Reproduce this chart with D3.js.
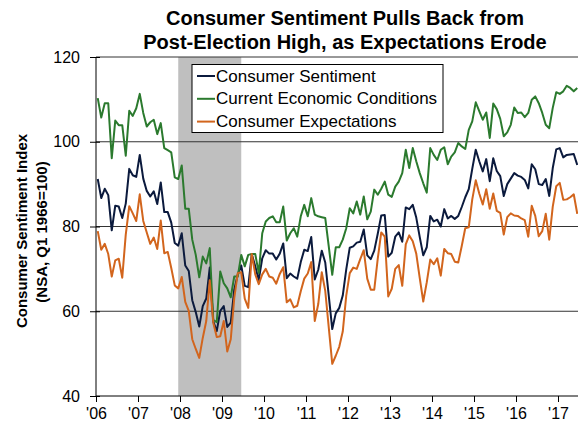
<!DOCTYPE html>
<html>
  <head>
    <meta charset="utf-8">
    <title>Consumer Sentiment</title>
    <style>
      body {
        margin: 0;
        background-color: white;
      }
      svg {
        display: block;
        font-family: Arial, "Liberation Sans", sans-serif;
      }
    </style>
  </head>
  <body>
    <div id="chart"></div>

    <script src="https://d3js.org/d3.v7.min.js"></script>
    <script>
      // monthly, Jan 2006 .. Jun 2017
      var yearLabels = ["'06", "'07", "'08", "'09", "'10", "'11", "'12", "'13", "'14", "'15", "'16", "'17"];
      var yTicks = [40, 60, 80, 100, 120];

      var sentiment = [
        91.2, 86.7, 88.9, 87.4, 79.1, 84.9, 84.7, 82.0, 85.4, 93.6, 92.1, 91.7,
        96.9, 91.3, 88.4, 87.1, 88.3, 85.3, 90.4, 83.4, 83.4, 80.9, 76.1, 75.5,
        78.4, 70.8, 69.5, 62.6, 59.8, 56.4, 61.2, 63.0, 70.3, 57.6, 55.3, 60.1,
        61.2, 56.3, 57.3, 65.1, 68.7, 70.8, 66.0, 65.7, 73.5, 70.6, 67.4, 72.5,
        74.4, 73.6, 73.6, 72.2, 73.6, 76.0, 67.8, 68.9, 68.2, 67.7, 71.6, 74.5,
        74.2, 77.5, 67.5, 69.8, 74.3, 71.5, 63.7, 55.8, 59.5, 60.8, 63.7, 69.9,
        75.0, 75.3, 76.2, 76.4, 79.3, 73.2, 72.3, 74.3, 78.3, 82.6, 82.7, 72.9,
        73.8, 77.6, 78.6, 76.4, 84.5, 84.1, 85.1, 82.1, 77.5, 73.2, 75.1, 82.5,
        81.2, 81.6, 80.0, 84.1, 81.9, 82.5, 81.8, 82.5, 84.6, 86.9, 88.8, 93.6,
        98.1, 95.4, 93.0, 95.9, 90.7, 96.1, 93.1, 91.9, 87.2, 90.0, 91.3, 92.6,
        92.0, 91.7, 91.0, 89.0, 94.7, 93.5, 90.0, 89.8, 91.2, 87.2, 93.8, 98.2,
        98.5, 96.3, 96.9, 97.0, 97.1, 94.5
      ];

      var current = [
        110.3, 105.7, 109.1, 109.1, 96.1, 105.0, 103.9, 103.9, 96.7, 107.3, 106.1, 107.9,
        111.3, 106.8, 103.6, 104.6, 105.2, 101.8, 104.4, 98.5, 98.0, 97.5, 91.6, 91.2,
        94.4, 84.2, 84.2, 76.9, 73.3, 68.0, 72.9, 71.3, 74.9, 58.0, 57.4, 69.4,
        66.6, 65.4, 63.3, 68.2, 68.2, 73.3, 70.6, 73.3, 73.5, 73.5, 69.0, 78.4,
        81.2, 82.0, 82.4, 81.0, 81.0, 84.7, 76.7, 78.4, 79.6, 77.6, 82.4, 85.1,
        82.4, 86.7, 82.8, 82.4, 82.2, 82.0, 75.3, 68.6, 75.1, 75.1, 76.9, 79.6,
        84.3, 83.1, 85.9, 82.8, 87.1, 81.7, 83.5, 88.7, 87.5, 88.9, 90.6, 87.5,
        87.0, 89.4, 90.6, 92.6, 98.1, 93.8, 98.5, 95.4, 92.6, 90.2, 88.0, 98.5,
        96.9, 95.7, 98.1, 98.7, 94.7, 96.5, 97.5, 99.7, 98.9, 98.3, 102.8, 104.8,
        109.3, 107.2, 105.2, 106.9, 100.9, 109.0, 107.7, 105.4, 101.3, 102.2, 104.0, 108.1,
        106.8, 106.9, 105.8, 106.8, 109.9, 110.7, 109.1, 106.8, 104.0, 103.2, 108.0, 111.7,
        111.3, 111.9, 113.2, 112.7, 111.9, 112.7
      ];

      var expectations = [
        78.9, 74.5, 75.9, 73.5, 68.2, 72.0, 72.4, 67.9, 78.1, 84.8, 83.1, 81.3,
        87.6, 81.3, 78.6, 75.9, 77.4, 74.7, 81.4, 73.7, 74.0, 70.2, 66.1, 65.4,
        68.1, 62.2, 60.1, 53.4, 51.1, 49.0, 53.7, 57.7, 67.3, 57.3, 53.9, 54.1,
        57.7, 50.5, 53.4, 63.1, 69.0, 69.2, 63.0, 60.8, 73.5, 68.7, 66.4, 68.7,
        70.0, 68.2, 67.9, 66.5, 68.8, 70.4, 62.1, 62.8, 60.9, 61.3, 64.7, 67.7,
        68.9, 71.6, 57.7, 61.7, 69.2, 64.8, 56.2, 47.6, 49.5, 51.6, 55.2, 63.7,
        69.0, 70.3, 70.0, 72.3, 74.4, 67.7, 65.1, 65.1, 72.4, 78.6, 77.6, 63.5,
        65.3, 70.0, 70.9, 66.0, 75.8, 77.9, 76.5, 73.6, 67.8, 62.3, 66.8, 72.2,
        71.1, 72.5, 68.4, 74.7, 73.7, 73.5, 71.7, 71.5, 75.4, 79.6, 79.8, 86.4,
        90.9, 87.8, 85.2, 88.8, 84.2, 87.8, 83.7, 83.2, 78.1, 82.2, 83.1, 82.6,
        82.5, 81.9, 81.5, 77.6, 84.9, 82.5, 77.7, 78.9, 83.0, 76.9, 84.7, 89.5,
        90.3, 86.3, 86.4, 86.9, 87.6, 83.0
      ];

      // recession: Dec 2007 .. Jun 2009 (month index from Jan 2006)
      var recession = [23, 41];

      var series = [
        {name: "Consumer Sentiment", values: sentiment, color: "#0b1a3d"},
        {name: "Current Economic Conditions", values: current, color: "#2b7a2e"},
        {name: "Consumer Expectations", values: expectations, color: "#d2651d"}
      ];

      var width = 578;
      var height = 421;
      var plotLeft = 96, plotTop = 57, plotBottom = 396;
      var months = sentiment.length;

      var svg = d3.select("#chart").append("svg")
        .attr("width", width)
        .attr("height", height);

      var x = d3.scaleLinear().domain([0, months]).range([plotLeft, plotLeft + months * 3.5]);
      var y = d3.scaleLinear().domain([40, 120]).range([plotBottom, plotTop]);

      svg.append("clipPath").attr("id", "plot")
        .append("rect")
        .attr("x", plotLeft).attr("y", plotTop - 5)
        .attr("width", width - plotLeft).attr("height", plotBottom - plotTop + 10);

      // recession shading
      svg.append("rect")
        .attr("x", x(recession[0] + 0.5))
        .attr("y", plotTop)
        .attr("width", x(recession[1] + 0.5) - x(recession[0] + 0.5))
        .attr("height", plotBottom - plotTop)
        .attr("fill", "#bfbfbf");

      // gridlines
      svg.append("g")
        .selectAll("line")
        .data(yTicks.slice(1))
        .enter()
        .append("line")
        .attr("x1", plotLeft).attr("x2", width)
        .attr("y1", function(d) { return y(d); })
        .attr("y2", function(d) { return y(d); })
        .attr("stroke", "#333")
        .attr("stroke-width", 1);

      // series lines
      var line = d3.line()
        .x(function(d, i) { return x(i + 0.5); })
        .y(function(d) { return y(d); });

      svg.append("g")
        .attr("clip-path", "url(#plot)")
        .selectAll("path")
        .data(series)
        .enter()
        .append("path")
        .attr("d", function(d) { return line(d.values); })
        .attr("fill", "none")
        .attr("stroke", function(d) { return d.color; })
        .attr("stroke-width", 2)
        .attr("stroke-linejoin", "round");

      // axes
      var xAxis = d3.axisBottom(x)
        .tickValues(d3.range(yearLabels.length).map(function(i) { return i * 12; }))
        .tickFormat(function(d) { return yearLabels[d / 12]; })
        .tickSize(6)
        .tickPadding(6);

      var gx = svg.append("g")
        .attr("transform", "translate(0," + plotBottom + ")")
        .call(xAxis);
      gx.select(".domain").remove();
      gx.append("line")
        .attr("x1", plotLeft).attr("x2", width)
        .attr("stroke", "#000");
      gx.selectAll("text")
        .attr("font-size", 16)
        .attr("font-family", "Arial, 'Liberation Sans', sans-serif")
        .attr("fill", "#000");

      var yAxis = d3.axisLeft(y)
        .tickValues(yTicks)
        .tickSize(6)
        .tickPadding(10);

      var gy = svg.append("g")
        .attr("transform", "translate(" + plotLeft + ",0)")
        .call(yAxis);
      gy.select(".domain").remove();
      gy.append("line")
        .attr("y1", plotTop).attr("y2", plotBottom)
        .attr("stroke", "#000");
      gy.selectAll(".tick line").attr("x1", 4);
      gy.selectAll("text")
        .attr("font-size", 16)
        .attr("font-family", "Arial, 'Liberation Sans', sans-serif")
        .attr("fill", "#000");

      // title
      svg.append("text")
        .attr("x", 345).attr("y", 25)
        .attr("text-anchor", "middle")
        .attr("font-size", 20)
        .attr("font-weight", "bold")
        .text("Consumer Sentiment Pulls Back from");
      svg.append("text")
        .attr("x", 345).attr("y", 49)
        .attr("text-anchor", "middle")
        .attr("font-size", 20)
        .attr("font-weight", "bold")
        .text("Post-Election High, as Expectations Erode");

      // y label
      svg.append("text")
        .attr("transform", "rotate(-90)")
        .attr("x", -231).attr("y", 26.5)
        .attr("text-anchor", "middle")
        .attr("font-size", 15)
        .attr("font-weight", "bold")
        .text("Consumer Sentiment Index");
      svg.append("text")
        .attr("transform", "rotate(-90)")
        .attr("x", -232).attr("y", 47)
        .attr("text-anchor", "middle")
        .attr("font-size", 15)
        .attr("font-weight", "bold")
        .text("(NSA, Q1 1966=100)");

      // legend
      var legend = svg.append("g");
      legend.append("rect")
        .attr("x", 192).attr("y", 64.5)
        .attr("width", 251).attr("height", 68)
        .attr("fill", "white")
        .attr("stroke", "#000")
        .attr("stroke-width", 1);

      var item = legend.selectAll("g.item")
        .data(series)
        .enter()
        .append("g")
        .attr("class", "item")
        .attr("transform", function(d, i) { return "translate(0," + (i * 22.8) + ")"; });
      item.append("line")
        .attr("x1", 197).attr("x2", 215)
        .attr("y1", 76).attr("y2", 76)
        .attr("stroke", function(d) { return d.color; })
        .attr("stroke-width", 2);
      item.append("text")
        .attr("x", 216).attr("y", 81.5)
        .attr("font-size", 17)
        .text(function(d) { return d.name; });
    </script>
  </body>
</html>
